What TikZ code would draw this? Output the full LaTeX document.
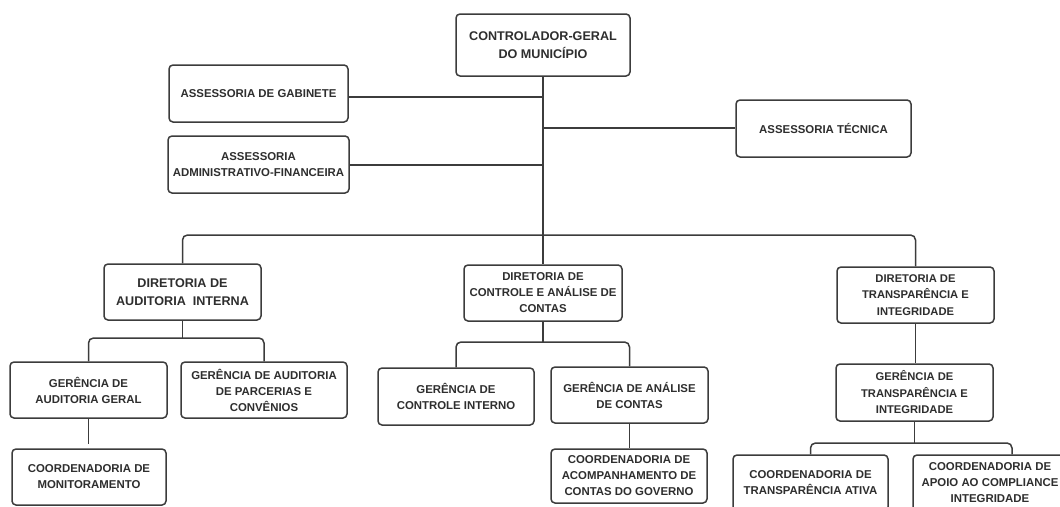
\documentclass[tikz,border=0pt]{standalone}
\usepackage{fontspec}
\setmainfont{Liberation Sans}
\definecolor{ln}{HTML}{3C3C3C}
\definecolor{tx}{HTML}{2E2E2E}
\begin{document}
\begin{tikzpicture}[x=1pt,y=-1pt,
  box/.style={draw=ln, line width=1.5pt, rounded corners=4pt, fill=white, align=center, text=tx,
    font=\bfseries\fontsize{11.4}{16}\selectfont, inner sep=0pt},
  bigfont/.style={font=\bfseries\fontsize{12.6}{17.5}\selectfont},
  midfont/.style={font=\bfseries\fontsize{11.2}{16.5}\selectfont},
  conn/.style={draw=ln, line width=1.5pt},
  bus/.style={conn, rounded corners=5pt}]
\useasboundingbox (0,0) rectangle (1060,506);
\clip (0,0) rectangle (1060,506);
\fill[white] (0,0) rectangle (1060,506);

% nodes
\node[box, bigfont, minimum width=174pt, minimum height=62pt] (top) at (543,45) {CONTROLADOR-GERAL\\DO MUNICÍPIO};
\node[box, minimum width=179pt, minimum height=57pt] (gab) at (258.5,93.5) {ASSESSORIA DE GABINETE};
\node[box, minimum width=181pt, minimum height=57pt] (adm) at (258.5,164.5) {ASSESSORIA\\ADMINISTRATIVO-FINANCEIRA};
\node[box, minimum width=175pt, minimum height=57pt] (tec) at (823.5,128.5) {ASSESSORIA TÉCNICA};

\node[box, bigfont, minimum width=157pt, minimum height=56pt] (dai) at (182.5,292) {DIRETORIA DE\\AUDITORIA\ \ INTERNA};
\node[box, minimum width=158pt, minimum height=56pt] (dca) at (543,293) {DIRETORIA DE\\CONTROLE E ANÁLISE DE\\CONTAS};
\node[box, midfont, minimum width=157pt, minimum height=56pt] (dti) at (915.5,295) {DIRETORIA DE\\TRANSPARÊNCIA E\\INTEGRIDADE};

\node[box, minimum width=157pt, minimum height=56pt] (gag) at (88.5,390) {GERÊNCIA DE\\AUDITORIA GERAL};
\node[box, minimum width=166pt, minimum height=56pt] (par) at (264,390) {GERÊNCIA DE AUDITORIA\\DE PARCERIAS E\\CONVÊNIOS};
\node[box, minimum width=156pt, minimum height=57pt] (gci) at (456,396.5) {GERÊNCIA DE\\CONTROLE INTERNO};
\node[box, minimum width=157pt, minimum height=56pt] (gac) at (629.5,395) {GERÊNCIA DE ANÁLISE\\DE CONTAS};
\node[box, midfont, minimum width=157pt, minimum height=57pt] (gti) at (914.5,392.5) {GERÊNCIA DE\\TRANSPARÊNCIA E\\INTEGRIDADE};

\node[box, minimum width=154pt, minimum height=56pt] (mon) at (89,477) {COORDENADORIA DE\\MONITORAMENTO};
\node[box, minimum width=156pt, minimum height=54pt] (aco) at (629,476) {COORDENADORIA DE\\ACOMPANHAMENTO DE\\CONTAS DO GOVERNO};
\node[box, minimum width=155pt, minimum height=56pt] (ati) at (810.5,483) {COORDENADORIA DE\\TRANSPARÊNCIA ATIVA};
\node[box, minimum width=154pt, minimum height=56pt] (apo) at (990,483) {COORDENADORIA DE\\APOIO AO COMPLIANCE\\INTEGRIDADE};

% junction coordinates
\coordinate (jg) at (543,97);
\coordinate (ja) at (543,165);
\coordinate (jt) at (543,128);
\coordinate (mb) at (543,235);
\coordinate (sa) at (182.5,338);
\coordinate (sb) at (543,342);
\coordinate (sc) at (913,443);
\coordinate (sd) at (1012,443);

% connectors
\draw[conn] (top.south) -- (dca.north);
\draw[conn] (gab.east |- jg) -- (jg);
\draw[conn] (adm.east |- ja) -- (ja);
\draw[conn] (jt) -- (tec.west |- jt);
\draw[bus] (dai.north) |- (mb) -| (dti.north);

\draw[conn] (dai.south) -- (sa);
\draw[bus] (gag.north) |- (sa) -| (par.north);
\draw[conn] (dca.south) -- (sb);
\draw[bus] (gci.north) |- (sb) -| (gac.north);
\draw[conn] (dti.south) -- (dti.south |- gti.north);

\draw[conn] (gag.south) -- ([yshift=4pt]gag.south |- mon.north);
\draw[conn] (gac.south) -- (gac.south |- aco.north);
\draw[conn] (gti.south) -- (gti.south |- sc);
\draw[bus] (ati.north) |- (sc) -- (sd) -- (sd |- apo.north);
\end{tikzpicture}
\end{document}
